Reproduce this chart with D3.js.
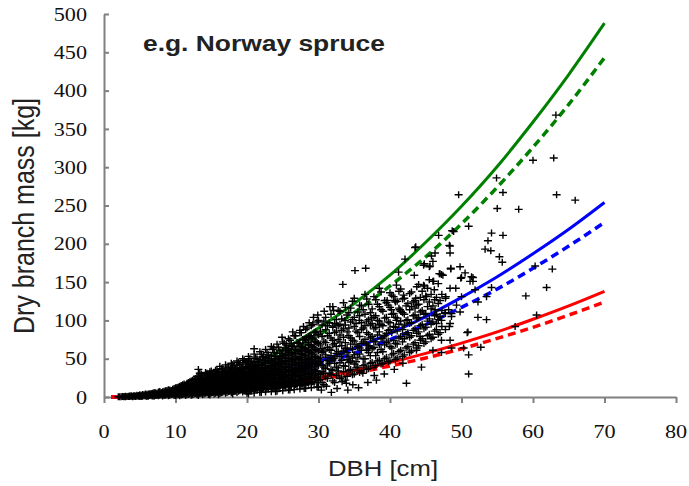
<!DOCTYPE html>
<html lang="en">

<head>
    <meta charset="UTF-8">
    <script src="https://cdn.jsdelivr.net/npm/d3@7"></script>
    <title>Dry branch mass vs DBH</title>
    <style>
        body {
            margin: 0;
            background: white;
        }

        .tick-label {
            font-family: 'Liberation Serif', 'Times New Roman', serif;
            font-size: 19px;
            fill: #111;
        }

        .axis-title {
            font-family: 'Liberation Sans', Arial, sans-serif;
            fill: #222;
        }

        .axis path,
        .axis line {
            stroke: #808080;
            stroke-width: 2px;
        }
    </style>
</head>

<body>
    <div id="chart"></div>

    <script>
        // Set dimensions
        const svgWidth = 689;
        const svgHeight = 486;
        const plot = { left: 104, right: 676, top: 14, bottom: 397 };
        const stretch = 1.17; // the original text is a bit wide

        // Tick labels
        const xTicks = [0, 10, 20, 30, 40, 50, 60, 70, 80];
        const yTicks = [0, 50, 100, 150, 200, 250, 300, 350, 400, 450, 500];

        // Model curves at these DBH values
        const curveDbh = [1, 2.5, 5, 10, 15, 20, 25, 30, 35, 40, 45, 50, 55, 60, 65, 70];
        const greenSolid = [0.1, 0.6, 2.5, 10, 22.4, 39.8, 62, 90, 122, 159, 202, 249, 301, 359, 421, 488];
        const greenDash = [0.1, 0.6, 2.2, 8.8, 20, 35.5, 55.5, 81, 110, 145, 183, 226, 274, 326, 382, 443];
        const blueSolid = [0.05, 0.3, 1.3, 5.2, 11.7, 20.7, 32.4, 46.6, 63.5, 83, 105, 130, 157, 187, 219, 254];
        const blueDash = [0.05, 0.3, 1.2, 4.7, 10.5, 18.6, 29, 42, 57, 75, 94.5, 117, 141, 168, 197, 228];
        const redSolid = [0.03, 0.2, 0.7, 2.8, 6.3, 11.3, 17.6, 25.4, 34.5, 45, 57, 70.4, 85, 101.5, 119, 138];
        const redDash = [0.03, 0.2, 0.6, 2.5, 5.7, 10.2, 15.8, 22.9, 31, 40.5, 51, 63, 76.5, 91, 107, 124];

        // Dense part of the tree cloud: DBH column -> masses seen in that column
        const cloudDbh = [2.0, 2.4, 2.8, 3.2, 3.6, 4.0, 4.4, 4.8, 5.2, 5.6, 6.0, 6.4, 6.8, 7.2, 7.6, 8.0, 8.4, 8.8, 9.2, 9.6,
            10.0, 10.4, 10.8, 11.2, 11.6, 12.0, 12.4, 12.8, 13.2, 13.6, 14.0, 14.4, 14.8, 15.2, 15.6, 16.0, 16.4, 16.8, 17.2, 17.6,
            18.0, 18.4, 18.8, 19.2, 19.6, 20.0, 20.4, 20.8, 21.2, 21.6, 22.0, 22.4, 22.8, 23.2, 23.6, 24.0, 24.4, 24.8, 25.2, 25.6,
            26.0, 26.4, 26.8, 27.2, 27.6, 28.0, 28.4, 28.8, 29.2, 29.6, 30.0, 30.5, 31.0, 31.5, 32.0, 32.5, 33.0, 33.5, 34.0, 34.5,
            35.0, 35.5, 36.0, 36.5, 37.0, 37.5, 38.0, 38.5, 39.0, 39.5, 40.0, 40.5, 41.0, 41.5, 42.0, 42.5, 43.0, 43.5, 44.0, 44.5,
            45.0, 45.5, 46.0, 46.5, 47.0];
        const cloudMass = [
            [0.2], [0.4], [0.5, 0.2], [0.8], [0.6, 1.2], [1.0, 0.4], [1.4, 0.8], [0.9, 2.0], [1.2, 2.4, 0.5], [1.6, 3.0],
            [0.8, 2.0, 3.5], [1.8, 3.0, 4.2], [1.2, 2.6, 5.0], [2.0, 3.6, 5.5], [1.5, 3.0, 4.5, 6.5], [2.5, 4.0, 6.0],
            [1.8, 3.5, 5.2, 7.5], [3.0, 4.8, 6.6, 8.5], [2.2, 4.0, 6.0, 9.0], [3.5, 5.5, 7.5, 10],
            [1.8, 4.5, 6.5, 8.5, 12], [3.0, 5.5, 8.0, 10.5, 13], [2.5, 4.8, 7.0, 9.5, 12, 15], [3.5, 6.0, 8.5, 11, 14, 17],
            [2.8, 5.2, 7.8, 10.5, 13.5, 18], [4.0, 6.5, 9.0, 12, 15, 20], [3.0, 5.5, 8.0, 11, 14, 17, 22], [4.5, 7.0, 10, 13, 16, 24],
            [2.0, 3.5, 6.0, 9.0, 12, 15, 19, 26], [5.0, 8.0, 11, 14, 18, 22, 30], [4.0, 7.0, 10, 13, 16, 20, 25], [5.5, 8.5, 12, 15, 19, 23, 28],
            [2.5, 4.5, 7.5, 11, 14, 18, 22, 27, 33], [6.0, 9.0, 12, 16, 20, 25, 30], [5.0, 8.0, 11, 15, 19, 23, 28, 35], [3.0, 6.5, 10, 13, 17, 21, 26, 32],
            [5.5, 9.0, 12, 16, 20, 24, 29, 37], [7.0, 10.5, 14, 18, 22, 27, 33], [6.0, 9.5, 13, 17, 21, 25, 30, 39], [8.0, 11.5, 15, 19, 24, 29, 35],
            [4.0, 7.0, 10.5, 14, 18, 22, 27, 32, 42], [8.5, 12, 16, 20, 25, 30, 37], [7.5, 11, 15, 19, 24, 29, 34, 45], [9.0, 13, 17, 21, 26, 31, 38],
            [8.0, 12, 16, 20, 25, 30, 36, 48], [5.0, 10, 14, 18, 23, 28, 33, 40], [9.0, 13, 17, 22, 27, 32, 38, 50], [11, 15, 19, 24, 29, 35, 42],
            [10, 14, 18, 23, 28, 33, 40, 52], [12, 16, 21, 26, 31, 37, 45], [6.0, 10, 15, 19, 24, 29, 35, 42, 56], [13, 17, 22, 27, 33, 39, 48],
            [11, 16, 21, 26, 31, 37, 44, 58], [14, 18, 23, 29, 35, 41, 50], [12, 17, 22, 28, 34, 40, 47, 62], [7.0, 15, 20, 25, 31, 37, 44, 53],
            [13, 18, 24, 30, 36, 43, 50, 65], [16, 21, 27, 33, 40, 47, 57], [14, 20, 26, 32, 39, 46, 54, 70], [17, 23, 29, 36, 43, 51, 61],
            [9.0, 15, 21, 28, 35, 42, 50, 58, 74], [18, 25, 32, 39, 47, 55, 66], [16, 23, 30, 37, 45, 53, 62, 80], [20, 27, 34, 42, 50, 59, 70],
            [17, 25, 33, 41, 49, 57, 66, 84], [11, 21, 29, 37, 45, 54, 63, 75], [19, 27, 35, 44, 52, 61, 71, 90], [23, 31, 40, 49, 58, 68, 80],
            [20, 29, 38, 47, 56, 65, 76, 95], [25, 34, 43, 52, 62, 72, 85], [13, 22, 31, 41, 50, 60, 70, 81, 100],
            [19, 33, 41, 58, 63, 79, 94], [26, 37, 52, 55, 71, 88, 104], [31, 44, 47, 62, 83, 97], [21, 35, 50, 68, 74, 91, 118],
            [28, 39, 57, 66, 86, 101], [24, 45, 53, 72, 81, 95, 112], [33, 41, 60, 78, 89, 123], [27, 49, 58, 64, 85, 107],
            [36, 47, 69, 77, 98, 116], [30, 43, 55, 73, 92, 104, 129], [39, 52, 66, 84, 111], [34, 61, 70, 88, 97, 119],
            [42, 50, 75, 93, 108, 134], [37, 58, 67, 82, 101, 121], [45, 63, 79, 96, 115], [41, 54, 72, 91, 106, 127],
            [48, 68, 85, 99, 118, 142], [44, 59, 77, 93, 112], [52, 71, 83, 104, 123], [47, 66, 88, 97, 117, 136],
            [57, 74, 92, 109, 131], [51, 69, 86, 103, 125], [61, 79, 99, 112, 141], [55, 76, 94, 108, 129],
            [66, 84, 101, 122], [60, 80, 97, 118, 137], [71, 89, 107, 126], [67, 85, 104, 121, 147],
            [76, 95, 113, 138], [72, 91, 109, 132], [82, 102, 124, 153], [78, 98, 119], [88, 108, 130], [84, 105, 126]
        ];

        // Second pass over the cloud, columns in between the first ones
        const cloudDbhB = [2.2, 2.6, 3.0, 3.4, 3.8, 4.2, 4.6, 5.0, 5.4, 5.8, 6.2, 6.6, 7.0, 7.4, 7.8, 8.2, 8.6, 9.0, 9.4, 9.8,
            10.2, 10.6, 11.0, 11.4, 11.8, 12.2, 12.6, 13.0, 13.4, 13.8, 14.2, 14.6, 15.0, 15.4, 15.8, 16.2, 16.6, 17.0, 17.4, 17.8,
            18.2, 18.6, 19.0, 19.4, 19.8, 20.2, 20.6, 21.0, 21.4, 21.8, 22.2, 22.6, 23.0, 23.4, 23.8, 24.2, 24.6, 25.0, 25.4, 25.8,
            26.2, 26.6, 27.0, 27.4, 27.8, 28.2, 28.6, 29.0, 29.4, 29.8, 30.25, 30.75, 31.25, 31.75, 32.25, 32.75, 33.25, 33.75, 34.25, 34.75,
            35.25, 35.75, 36.25, 36.75, 37.25, 37.75, 38.25, 38.75, 39.25, 39.75, 40.25, 40.75, 41.25, 41.75, 42.25, 42.75, 43.25, 43.75, 44.25, 44.75,
            45.25, 45.75, 46.25, 46.75, 47.25, 47.75];
        const cloudMassB = [
            [0.3], [0.6], [0.3, 0.9], [0.5, 1.1], [0.9, 1.6], [0.6, 1.8], [1.1, 2.3], [0.7, 1.6, 2.8], [1.0, 2.0, 3.3], [1.3, 2.6, 3.8],
            [1.0, 2.4, 3.9], [1.5, 3.3, 4.6], [1.0, 2.4, 4.2, 6.0], [1.8, 3.3, 5.0], [2.2, 3.8, 5.6, 7.2], [1.4, 3.0, 4.6, 6.8],
            [2.4, 4.2, 6.0, 8.0], [1.6, 3.5, 5.4, 7.4, 9.5], [2.8, 4.8, 6.8, 8.6], [2.0, 4.0, 6.2, 8.4, 11],
            [2.5, 5.0, 7.2, 9.6, 12.5], [1.6, 4.2, 6.5, 9.0, 11.5, 14], [3.0, 5.6, 8.0, 10.8, 13.5, 16], [2.0, 4.6, 7.2, 9.8, 12.5, 15.5],
            [3.4, 6.0, 8.8, 11.6, 14.6, 19], [2.4, 5.0, 7.5, 10.4, 13.2, 16.5, 21], [3.8, 6.5, 9.2, 12, 15, 18.5, 23], [2.8, 5.5, 8.4, 11.2, 14, 17.5, 21, 27],
            [4.2, 7.2, 10, 13, 16.5, 20, 24, 31], [3.0, 6.0, 9.2, 12.4, 15.6, 19, 23, 28], [4.8, 7.8, 11, 14.5, 18, 21.5, 26, 32], [3.4, 6.6, 9.8, 13.2, 16.6, 20.5, 24.5, 29],
            [5.2, 8.6, 12, 15.5, 19.5, 23.5, 28, 34], [4.0, 7.4, 10.8, 14.4, 18, 22, 26.5, 31], [5.8, 9.2, 12.8, 16.6, 20.5, 24.5, 29.5, 36], [4.4, 8.0, 11.6, 15.4, 19.4, 23.6, 28, 33, 40],
            [6.2, 9.8, 13.6, 17.6, 21.8, 26, 31, 37], [4.8, 8.6, 12.4, 16.4, 20.6, 25, 29.5, 35, 42], [6.8, 10.6, 14.6, 18.8, 23, 27.5, 32.5, 39], [5.4, 9.4, 13.4, 17.6, 22, 26.5, 31.5, 37, 44],
            [7.4, 11.4, 15.6, 20, 24.5, 29.5, 35, 41], [6.0, 10.2, 14.4, 18.8, 23.4, 28.2, 33.5, 39, 47], [8.0, 12.2, 16.6, 21.2, 26, 31, 36.5, 43], [6.6, 11, 15.4, 20, 24.8, 29.8, 35.5, 42, 50],
            [8.6, 13, 17.6, 22.4, 27.4, 32.6, 38.5, 45], [4.0, 7.2, 11.8, 16.4, 21.2, 26.2, 31.4, 37, 44, 53], [9.2, 14, 18.8, 23.8, 29, 34.5, 40.5, 47], [5.0, 8.0, 12.6, 17.4, 22.4, 27.6, 33, 39, 46, 56],
            [10, 15, 20, 25.2, 30.6, 36.4, 42.6, 50], [6.0, 8.8, 13.6, 18.6, 23.8, 29.2, 35, 41.5, 49, 59], [10.8, 16, 21.2, 26.6, 32.4, 38.4, 45, 52], [6.5, 9.6, 14.6, 19.8, 25.2, 31, 37, 44, 51.5, 62],
            [11.6, 17, 22.4, 28.2, 34.2, 40.6, 47.5, 55], [7.0, 10.4, 15.6, 21, 26.8, 32.8, 39, 46, 54, 66], [12.4, 18, 23.8, 29.8, 36, 42.8, 50, 58], [7.6, 11.2, 16.6, 22.4, 28.4, 34.6, 41.4, 48.6, 57, 69],
            [13.2, 19.2, 25.2, 31.4, 38, 45, 52.6, 61], [8.2, 12, 17.8, 23.8, 30, 36.6, 43.6, 51, 60, 72], [14, 20.4, 26.6, 33, 40, 47.4, 55.4, 64], [9.0, 13, 19, 25.2, 31.8, 38.6, 46, 54, 63, 76],
            [15, 21.6, 28.2, 35, 42.2, 50, 58, 67], [9.6, 14, 20.2, 26.8, 33.6, 41, 48.6, 57, 66, 80], [16, 23, 30, 37, 44.6, 52.6, 61, 71], [10.4, 15, 21.6, 28.4, 35.6, 43.4, 51.4, 60, 70, 84],
            [17, 24.4, 31.8, 39.4, 47.2, 55.6, 64.6, 75], [11.2, 16, 23, 30.2, 37.8, 45.8, 54.4, 63.4, 74, 88], [18, 26, 33.8, 41.8, 50, 59, 68.4, 79], [12, 17, 24.4, 32, 40, 48.6, 57.6, 67, 78, 93],
            [19.4, 27.6, 35.8, 44.2, 53, 62.4, 72.4, 84], [13, 18.4, 26, 34, 42.4, 51.4, 61, 71, 82, 98],
            [23, 29, 46, 52, 68, 86], [16, 31, 39, 60, 73, 99], [24, 42, 48, 65, 80, 93], [29, 36, 54, 61, 77, 108],
            [19, 44, 51, 70, 84, 96], [34, 38, 59, 75, 93, 113], [26, 48, 56, 67, 87, 102], [22, 40, 63, 71, 94, 117],
            [35, 45, 53, 80, 90, 110], [29, 51, 62, 74, 101, 125], [38, 46, 68, 86, 96], [32, 56, 64, 79, 106, 120],
            [41, 50, 72, 90, 114], [36, 61, 69, 84, 99, 128], [44, 54, 77, 94, 110], [39, 65, 73, 89, 104, 131],
            [47, 58, 81, 100, 121], [43, 62, 76, 95, 114, 137], [50, 68, 80, 103, 126], [46, 73, 87, 98, 120],
            [55, 64, 84, 108, 133], [49, 70, 91, 104, 124], [59, 77, 95, 116, 138], [53, 72, 88, 110, 128],
            [64, 82, 100, 119], [58, 78, 96, 114, 135], [69, 87, 106, 124], [64, 83, 102, 120, 144],
            [74, 93, 111, 130], [70, 89, 108, 127], [80, 99, 118, 142], [76, 95, 115, 134],
            [86, 106, 127], [82, 101, 122, 148], [92, 113, 134], [88, 109, 129]
        ];

        // Scattered trees outside the dense cloud: [DBH, mass]
        const looseTrees = [
            [13.2, 36], [14.4, 31], [20.0, 46], [21.0, 63], [22.3, 53], [23.7, 64], [25.5, 68], [26.2, 70], [27.4, 87], [28.3, 77],
            [24.9, 78], [26.4, 85], [27.9, 92], [28.7, 97], [29.3, 104], [29.9, 107], [30.8, 112], [31.6, 118],
            [30.4, 9], [31.1, 14], [31.8, 6], [32.6, 11], [33.3, 20], [34.1, 9], [34.8, 16], [35.6, 12], [36.9, 19], [37.8, 28], [39.2, 30], [40.6, 36],
            [32.1, 113], [33.4, 147], [35.1, 165], [36.6, 168], [33.7, 100], [35.7, 100], [37.4, 103], [38.5, 94], [33.9, 18], [36.2, 31], [38.1, 22],
            [39.6, 126], [40.2, 114], [40.7, 126], [40.9, 100], [40.9, 146], [41.2, 163], [41.4, 114], [41.8, 44], [41.9, 133], [42.1, 180], [42.3, 18],
            [43.4, 159], [43.5, 116], [43.5, 195], [43.6, 129], [43.6, 196], [43.7, 61], [44.2, 79], [44.4, 39], [44.7, 146], [44.7, 172], [44.8, 145], [44.8, 174],
            [45.1, 131], [45.5, 170], [45.6, 171], [45.8, 184], [46.0, 151], [46.0, 61], [46.0, 177], [46.1, 151], [46.2, 140], [46.3, 114], [46.3, 188], [46.5, 96], [46.8, 211], [46.9, 161],
            [47.0, 161], [47.2, 160], [47.2, 100], [47.2, 74], [47.2, 58], [47.4, 159], [47.7, 110], [47.8, 131],
            [48.2, 114], [48.3, 198], [48.3, 92], [48.4, 142], [48.4, 188], [48.4, 96], [48.4, 74], [48.4, 197], [48.5, 167], [48.5, 168], [48.6, 109], [48.6, 105], [48.6, 64], [48.7, 217], [48.9, 216],
            [49.2, 142], [49.3, 120], [49.6, 264], [49.8, 170], [49.8, 111], [49.9, 155], [50.0, 156], [50.0, 131], [50.3, 64], [50.5, 162], [50.8, 84], [50.9, 85],
            [51.0, 223], [51.0, 55], [51.0, 30], [51.2, 151], [51.4, 157], [51.6, 156], [51.6, 151], [51.9, 140], [52.3, 124], [52.3, 104], [52.7, 65],
            [53.3, 193], [53.5, 131], [53.5, 101], [53.7, 204], [54.1, 191], [54.2, 214], [54.2, 143], [54.9, 286], [55.0, 246], [55.3, 183], [55.7, 176], [55.8, 211], [55.8, 267],
            [57.5, 92], [58.0, 245], [59.0, 132], [60.0, 309], [60.3, 171], [60.5, 107], [61.9, 143], [62.7, 167], [62.9, 312], [63.2, 368], [63.3, 264], [65.9, 257]
        ];

        const svg = d3.select("#chart").append("svg")
            .attr("width", svgWidth)
            .attr("height", svgHeight);

        const x = d3.scaleLinear().domain([0, 80]).range([plot.left, plot.right]);
        const y = d3.scaleLinear().domain([0, 500]).range([plot.bottom, plot.top]);

        // Axes: x ticks hang down, y ticks point into the plot
        svg.append("g")
            .attr("class", "axis")
            .attr("transform", `translate(0,${plot.bottom})`)
            .call(d3.axisBottom(x).tickValues(xTicks).tickSize(6).tickSizeOuter(0).tickFormat(""));

        svg.append("g")
            .attr("class", "axis")
            .attr("transform", `translate(${plot.left},0)`)
            .call(d3.axisRight(y).tickValues(yTicks).tickSize(5).tickSizeOuter(0).tickFormat(""));

        svg.selectAll(".x-label")
            .data(xTicks)
            .enter()
            .append("text")
            .attr("class", "tick-label")
            .attr("text-anchor", "middle")
            .attr("transform", d => `translate(${x(d)},438) scale(${stretch},1)`)
            .text(d => d);

        svg.selectAll(".y-label")
            .data(yTicks)
            .enter()
            .append("text")
            .attr("class", "tick-label")
            .attr("text-anchor", "end")
            .attr("dy", "0.35em")
            .attr("transform", d => `translate(87,${y(d)}) scale(${stretch},1)`)
            .text(d => d);

        // Axis titles and the species note
        svg.append("text")
            .attr("class", "axis-title")
            .attr("text-anchor", "middle")
            .attr("font-size", 22)
            .attr("transform", `translate(383,476) scale(${stretch},1)`)
            .text("DBH [cm]");

        svg.append("text")
            .attr("class", "axis-title")
            .attr("text-anchor", "middle")
            .attr("font-size", 25)
            .attr("transform", `translate(34,216) scale(${stretch},1) rotate(-90)`)
            .text("Dry branch mass [kg]");

        svg.append("text")
            .attr("class", "axis-title")
            .attr("font-size", 22)
            .attr("font-weight", "bold")
            .attr("fill", "#333")
            .attr("transform", `translate(143,51) scale(1.2,1)`)
            .text("e.g. Norway spruce");

        // Model curves
        const line = d3.line()
            .x((d, i) => x(curveDbh[i]))
            .y(d => y(d))
            .curve(d3.curveMonotoneX);

        const curves = [
            { values: greenSolid, color: "#008000", dash: null },
            { values: greenDash, color: "#008000", dash: "8,5" },
            { values: blueSolid, color: "#0000ff", dash: null },
            { values: blueDash, color: "#0000ff", dash: "8,5" },
            { values: redSolid, color: "#ff0000", dash: null },
            { values: redDash, color: "#ff0000", dash: "8,5" }
        ];

        svg.selectAll(".curve")
            .data(curves)
            .enter()
            .append("path")
            .attr("fill", "none")
            .attr("stroke", d => d.color)
            .attr("stroke-width", d => d.dash ? 3.5 : 3)
            .attr("stroke-dasharray", d => d.dash)
            .attr("d", d => line(d.values));

        // Tree points as "+" markers
        const trees = [];
        cloudDbh.forEach((dbh, i) => cloudMass[i].forEach(m => trees.push([dbh, m])));
        cloudDbhB.forEach((dbh, i) => cloudMassB[i].forEach(m => trees.push([dbh, m])));
        looseTrees.forEach(t => trees.push(t));

        svg.append("g")
            .selectAll("path")
            .data(trees)
            .enter()
            .append("path")
            .attr("transform", d => `translate(${x(d[0])},${y(d[1])})`)
            .attr("d", "M-4,0H4M0,-3.5V3.5")
            .attr("stroke", "#000")
            .attr("stroke-width", 1.4)
            .attr("fill", "none");
    </script>
</body>

</html>
